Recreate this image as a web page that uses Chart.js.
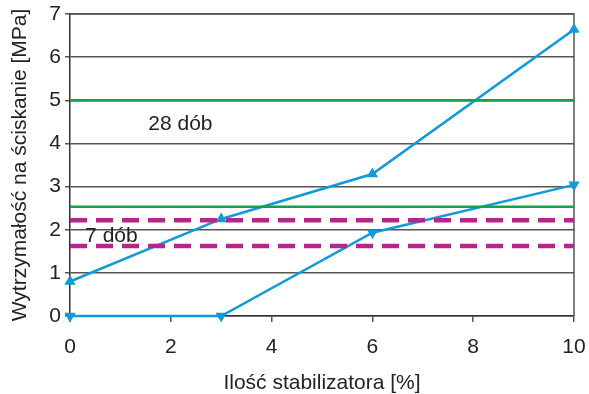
<!DOCTYPE html>
<html><head><meta charset="utf-8">
<script src="https://cdn.jsdelivr.net/npm/chart.js@4/dist/chart.umd.min.js"></script>
<style>html,body{margin:0;padding:0;background:#fff;}canvas{display:block;}</style>
</head><body>
<canvas id="c" width="589" height="394"></canvas>
<script>
const xValues = [0, 3, 6, 10];
const series28 = [0.8, 2.25, 3.29, 6.64];
const series7 = [0, 0, 1.93, 3.04];
const green28 = 5.0;
const green7 = 2.53;
const purpleHigh = 2.22;
const purpleLow = 1.62;
const lineRange = [0, 10];
const annotations = [
  {text: '28 dób', x: 2.19, y: 4.45, align: 'center'},
  {text: '7 dób', x: 0.3, y: 1.84, align: 'left'}
];
const xTitle = 'Ilość stabilizatora [%]';
const yTitle = 'Wytrzymałość na ściskanie [MPa]';

const pts = (xs, ys) => xs.map((x, i) => ({x, y: ys[i]}));
const hline = v => lineRange.map(x => ({x, y: v}));

const blue = '#109ad9';
const green = '#12a24a';
const purple = '#b5258b';
const FONT = '"Liberation Sans", Arial, sans-serif';

const textPlugin = {
  id: 'txt',
  afterDatasetsDraw(chart) {
    const {ctx, scales} = chart;
    ctx.save();
    ctx.font = '21px ' + FONT;
    ctx.fillStyle = '#222';
    ctx.textBaseline = 'middle';
    annotations.forEach(a => {
      ctx.textAlign = a.align;
      ctx.fillText(a.text, scales.x.getPixelForValue(a.x), scales.y.getPixelForValue(a.y));
    });
    ctx.restore();
  }
};
const borderPlugin = {
  id: 'brd',
  beforeDatasetsDraw(chart) {
    const {ctx, chartArea: a} = chart;
    ctx.save();
    ctx.strokeStyle = '#555';
    ctx.lineWidth = 1.5;
    ctx.beginPath();
    ctx.moveTo(a.left, a.top); ctx.lineTo(a.right, a.top); ctx.lineTo(a.right, a.bottom);
    ctx.stroke();
    ctx.restore();
  }
};
const zeroPad = s => { s.paddingLeft = 0; s.paddingRight = 0; s.paddingTop = 0; s.paddingBottom = 0; };

new Chart(document.getElementById('c'), {
  type: 'line',
  data: {
    datasets: [
      {data: hline(green28), borderColor: green, borderWidth: 2.5, pointRadius: 0},
      {data: hline(green7), borderColor: green, borderWidth: 2.5, pointRadius: 0},
      {data: hline(purpleHigh), borderColor: purple, borderWidth: 4.5, borderDash: [17, 9], pointRadius: 0},
      {data: hline(purpleLow), borderColor: purple, borderWidth: 4.5, borderDash: [17, 9], pointRadius: 0},
      {data: pts(xValues, series28), borderColor: blue, backgroundColor: blue, borderWidth: 2.5,
       pointStyle: 'triangle', pointRadius: 4, clip: false},
      {data: pts(xValues, series7), borderColor: blue, backgroundColor: blue, borderWidth: 2.5,
       pointStyle: 'triangle', pointRotation: 180, pointRadius: 4, clip: false}
    ]
  },
  options: {
    responsive: false,
    animation: false,
    layout: {padding: {top: 14, right: 15, left: 8, bottom: 0}},
    plugins: {legend: {display: false}, tooltip: {enabled: false}},
    scales: {
      x: {
        type: 'linear', min: 0, max: 10,
        afterFit: s => { zeroPad(s); s.height = 78; },
        ticks: {stepSize: 2, color: '#222', font: {family: FONT, size: 21}, padding: 13},
        grid: {drawOnChartArea: false, drawTicks: true, tickLength: 6, color: '#555', lineWidth: 1.5},
        border: {color: '#333', width: 1.5},
        title: {display: true, text: xTitle, color: '#222', font: {family: FONT, size: 21, lineHeight: 1}, padding: {top: 0, bottom: 0}}
      },
      y: {
        min: 0, max: 7,
        afterFit: s => { zeroPad(s); s.width = 62; },
        ticks: {stepSize: 1, color: '#222', font: {family: FONT, size: 21}, padding: 4},
        grid: {color: '#555', lineWidth: 1.5, tickLength: 5},
        border: {color: '#333', width: 1.5},
        title: {display: true, text: yTitle, color: '#222', font: {family: FONT, size: 21}, padding: {top: 0, bottom: 0}}
      }
    }
  },
  plugins: [textPlugin, borderPlugin]
});
</script>
</body></html>
